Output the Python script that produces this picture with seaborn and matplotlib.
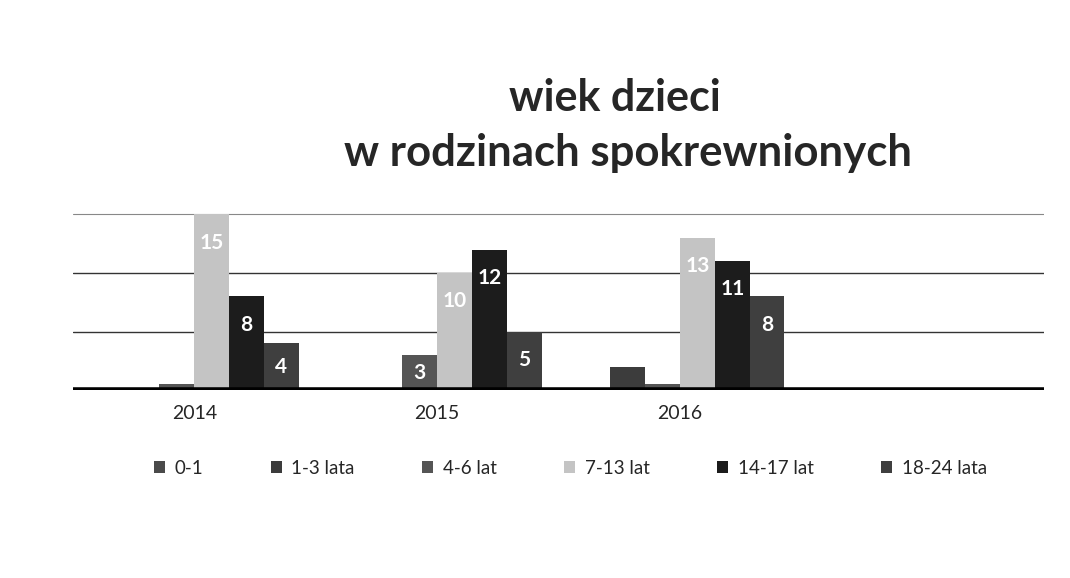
import matplotlib
matplotlib.use("Agg")
import matplotlib.pyplot as plt
import seaborn as sns
import pandas as pd

years = ["2014", "2015", "2016"]
groups = ["0-1", "1-3 lata", "4-6 lat", "7-13 lat", "14-17 lat", "18-24 lata"]
v_0_1 = [0, 0, 0]
v_1_3 = [0, 0, 2]
v_4_6 = [0.5, 3, 0.5]
v_7_13 = [15, 10, 13]
v_14_17 = [8, 12, 11]
v_18_24 = [4, 5, 8]
colors = ["#4a4a4a", "#3c3c3c", "#555555", "#c4c4c4", "#1c1c1c", "#3f3f3f"]

series = [v_0_1, v_1_3, v_4_6, v_7_13, v_14_17, v_18_24]
rows = []
for g, vals in zip(groups, series):
    for y, v in zip(years, vals):
        rows.append({"rok": y, "wiek": g, "liczba": v})
df = pd.DataFrame(rows)

sns.set_style("white")
plt.rcParams["font.family"] = ["Lato", "DejaVu Sans"]

fig = plt.figure(figsize=(10.7, 5.78), dpi=100)
ax = fig.add_axes([0.068, 0.325, 0.908, 0.31])

sns.barplot(data=df, x="rok", y="liczba", hue="wiek", order=years,
            hue_order=groups, palette=colors, width=0.86, gap=0,
            saturation=1, ax=ax, legend=True, edgecolor="none")
ax.set_xlim(-0.5, 3.5)
ax.set_ylim(0, 15.3)

for yv, c, lw in [(5, "#333333", 1.0), (10, "#333333", 1.0), (15, "#888888", 0.8)]:
    ax.axhline(yv, color=c, lw=lw, zorder=0)

for cont in ax.containers:
    for b in cont:
        h = b.get_height()
        if h >= 3:
            xc = b.get_x() + b.get_width() / 2
            yc = h - 2.4 if h > 4 else h / 2
            ax.text(xc, yc, f"{h:.0f}", ha="center", va="center",
                    color="white", fontsize=15, fontweight="bold")

ax.axhline(0, color="black", lw=4, zorder=5)
for s in ax.spines.values():
    s.set_visible(False)
ax.set_yticks([])
ax.set_xticks([0, 1, 2])
ax.set_xticklabels(years, fontsize=14)
ax.tick_params(axis="x", length=0, pad=11)
ax.set_xlabel("")
ax.set_ylabel("")

handles, labs = ax.get_legend_handles_labels()
ax.get_legend().remove()
fig.legend(handles, labs, loc="center", bbox_to_anchor=(0.533, 0.19), ncol=6,
           frameon=False, fontsize=13.5, handlelength=0.6, handleheight=0.6,
           handletextpad=0.5, columnspacing=3.6)

fig.text(0.575, 0.83, "wiek dzieci", ha="center", va="center",
         fontsize=31, fontweight="bold")
fig.text(0.587, 0.735, "w rodzinach spokrewnionych", ha="center", va="center",
         fontsize=31.5, fontweight="bold")

fig.savefig("out.png", dpi=100)
